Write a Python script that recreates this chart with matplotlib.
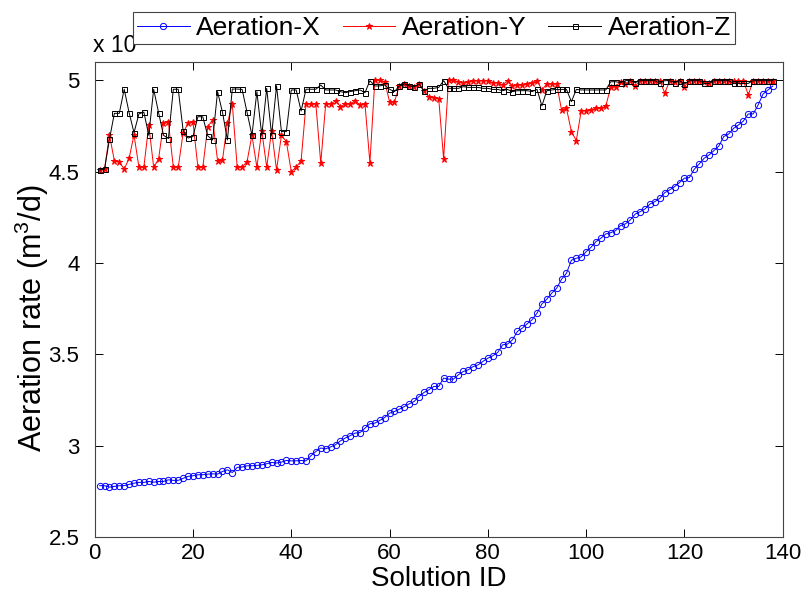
import matplotlib
matplotlib.use("Agg")
import matplotlib.pyplot as plt
import numpy as np

plt.rcParams['font.family'] = ['Liberation Sans', 'DejaVu Sans']
plt.rcParams['mathtext.fontset'] = 'custom'
plt.rcParams['mathtext.rm'] = 'Liberation Sans'
plt.rcParams['mathtext.it'] = 'Liberation Sans:italic'

solution_id = np.arange(1, 139)

aeration_x = [
    2.781, 2.781, 2.773, 2.777, 2.781, 2.781, 2.788, 2.795, 2.799, 2.799,
    2.804, 2.800, 2.804, 2.804, 2.813, 2.810, 2.810, 2.821, 2.832, 2.835,
    2.841, 2.841, 2.844, 2.846, 2.844, 2.859, 2.868, 2.853, 2.881, 2.883,
    2.890, 2.890, 2.892, 2.895, 2.901, 2.908, 2.905, 2.910, 2.919, 2.917,
    2.917, 2.919, 2.917, 2.945, 2.968, 2.987, 2.983, 2.993, 3.005, 3.026,
    3.042, 3.055, 3.069, 3.072, 3.096, 3.120, 3.123, 3.138, 3.154, 3.178,
    3.187, 3.200, 3.214, 3.229, 3.242, 3.269, 3.291, 3.306, 3.324, 3.324,
    3.370, 3.364, 3.364, 3.388, 3.406, 3.415, 3.433, 3.442, 3.461, 3.479,
    3.492, 3.510, 3.552, 3.556, 3.579, 3.625, 3.643, 3.667, 3.689, 3.725,
    3.776, 3.802, 3.835, 3.862, 3.911, 3.944, 4.015, 4.026, 4.033, 4.062,
    4.086, 4.117, 4.135, 4.159, 4.166, 4.177, 4.205, 4.214, 4.236, 4.268,
    4.281, 4.296, 4.323, 4.336, 4.354, 4.385, 4.400, 4.418, 4.440, 4.464,
    4.467, 4.513, 4.542, 4.573, 4.591, 4.615, 4.640, 4.692, 4.706, 4.737,
    4.755, 4.777, 4.816, 4.816, 4.865, 4.925, 4.947, 4.969,
]

aeration_y = [
    4.509, 4.513, 4.701, 4.560, 4.555, 4.513, 4.573, 4.701, 4.524, 4.524,
    4.755, 4.524, 4.569, 4.765, 4.770, 4.524, 4.524, 4.713, 4.765, 4.770,
    4.524, 4.524, 4.746, 4.783, 4.560, 4.563, 4.765, 4.870, 4.524, 4.524,
    4.555, 4.699, 4.524, 4.723, 4.524, 4.723, 4.509, 4.699, 4.664, 4.500,
    4.524, 4.560, 4.870, 4.870, 4.870, 4.546, 4.870, 4.870, 4.888, 4.856,
    4.870, 4.870, 4.888, 4.865, 4.870, 4.549, 5.000, 5.000, 4.992, 4.883,
    4.883, 4.969, 4.980, 4.970, 4.965, 4.980, 4.940, 4.910, 4.905, 4.900,
    4.570, 5.000, 5.000, 4.992, 4.983, 4.992, 4.998, 4.998, 4.998, 4.998,
    4.987, 4.987, 4.974, 4.998, 4.969, 4.974, 4.974, 4.980, 4.987, 4.998,
    4.947, 4.980, 4.980, 4.980, 4.837, 4.846, 4.719, 4.670, 4.834, 4.834,
    4.840, 4.846, 4.846, 4.860, 4.961, 4.965, 4.992, 4.980, 4.998, 4.969,
    4.998, 4.998, 4.998, 4.998, 4.998, 4.929, 4.998, 4.992, 4.998, 4.965,
    4.998, 4.998, 4.998, 4.992, 4.987, 4.998, 4.998, 4.998, 4.998, 4.998,
    4.998, 4.998, 4.920, 4.998, 4.998, 4.998, 4.998, 4.998,
]

aeration_z = [
    4.509, 4.513, 4.677, 4.819, 4.819, 4.951, 4.823, 4.713, 4.816, 4.826,
    4.699, 4.951, 4.823, 4.699, 4.681, 4.951, 4.951, 4.724, 4.684, 4.692,
    4.801, 4.800, 4.696, 4.673, 4.938, 4.825, 4.673, 4.952, 4.952, 4.950,
    4.825, 4.699, 4.938, 4.699, 4.956, 4.699, 4.970, 4.719, 4.719, 4.947,
    4.947, 4.832, 4.951, 4.951, 4.951, 4.974, 4.947, 4.947, 4.947, 4.938,
    4.932, 4.938, 4.943, 4.947, 4.932, 4.998, 4.969, 4.969, 4.975, 4.951,
    4.938, 4.969, 4.980, 4.969, 4.965, 4.980, 4.943, 4.956, 4.956, 4.961,
    4.998, 4.956, 4.956, 4.956, 4.965, 4.961, 4.961, 4.961, 4.956, 4.956,
    4.950, 4.950, 4.943, 4.950, 4.938, 4.943, 4.943, 4.943, 4.938, 4.950,
    4.860, 4.943, 4.947, 4.950, 4.950, 4.950, 4.883, 4.950, 4.947, 4.947,
    4.947, 4.947, 4.947, 4.947, 4.992, 4.992, 4.987, 4.998, 4.998, 4.987,
    4.998, 4.998, 4.998, 4.998, 4.983, 4.998, 4.998, 4.987, 4.998, 4.980,
    4.998, 4.998, 4.998, 4.983, 4.983, 4.998, 4.998, 4.998, 4.998, 4.983,
    4.983, 4.983, 4.983, 4.998, 4.998, 4.998, 4.998, 4.998,
]

x_ticks = [0, 20, 40, 60, 80, 100, 120, 140]
y_ticks = [2.5, 3.0, 3.5, 4.0, 4.5, 5.0]
y_tick_labels = ['2.5', '3', '3.5', '4', '4.5', '5']

fig = plt.figure(figsize=(8.08, 5.98), dpi=100)
ax = fig.add_axes([0.1172, 0.102, 0.8515, 0.7943])

ax.plot(solution_id, aeration_x, color='#0000ff', lw=0.7, marker='o',
        markersize=4.5, markerfacecolor='none', markeredgewidth=0.7,
        label='Aeration-X')
ax.plot(solution_id, aeration_y, color='#ff0000', lw=0.7, marker='*',
        markersize=4.5, markeredgewidth=0.7, label='Aeration-Y')
ax.plot(solution_id, aeration_z, color='black', lw=0.7, marker='s',
        markersize=3.6, markerfacecolor='none', markeredgewidth=0.7,
        label='Aeration-Z')

ax.set_xlim(0, 140)
ax.set_ylim(2.5, 5.1)
ax.set_xticks(x_ticks)
ax.set_xticklabels([str(t) for t in x_ticks])
ax.set_yticks(y_ticks)
ax.set_yticklabels(y_tick_labels)
ax.tick_params(direction='in', top=True, right=True, length=6, width=0.7,
               labelsize=16, colors='black')
ax.tick_params(axis='y', pad=11)
ax.tick_params(axis='x', pad=4)
for s in ax.spines.values():
    s.set_linewidth(0.8)
    s.set_color('#444444')

ax.set_xlabel('Solution ID', fontsize=20)
ax.xaxis.set_label_coords(0.5, -0.061)
ax.set_ylabel(r'Aeration rate (m$^{3}$/d)', fontsize=22)
ax.yaxis.set_label_coords(-0.064, 0.46)

fig.text(93 / 808, 1 - 46 / 598, 'x 10', fontsize=16.5, ha='left', va='center')

leg = fig.legend(loc='lower left',
                 bbox_to_anchor=(133 / 808, 1 - 44 / 598, 602 / 808, 37 / 598),
                 mode='expand', ncol=3, fontsize=19, frameon=True,
                 fancybox=False, edgecolor='#444444', handlelength=2.0,
                 handletextpad=0.25, borderpad=0.15, columnspacing=0.4,
                 borderaxespad=0.0, markerscale=1.0, framealpha=1.0)
leg.get_frame().set_linewidth(0.8)
leg.set_zorder(10)

fig.savefig('out.png', dpi=100)
